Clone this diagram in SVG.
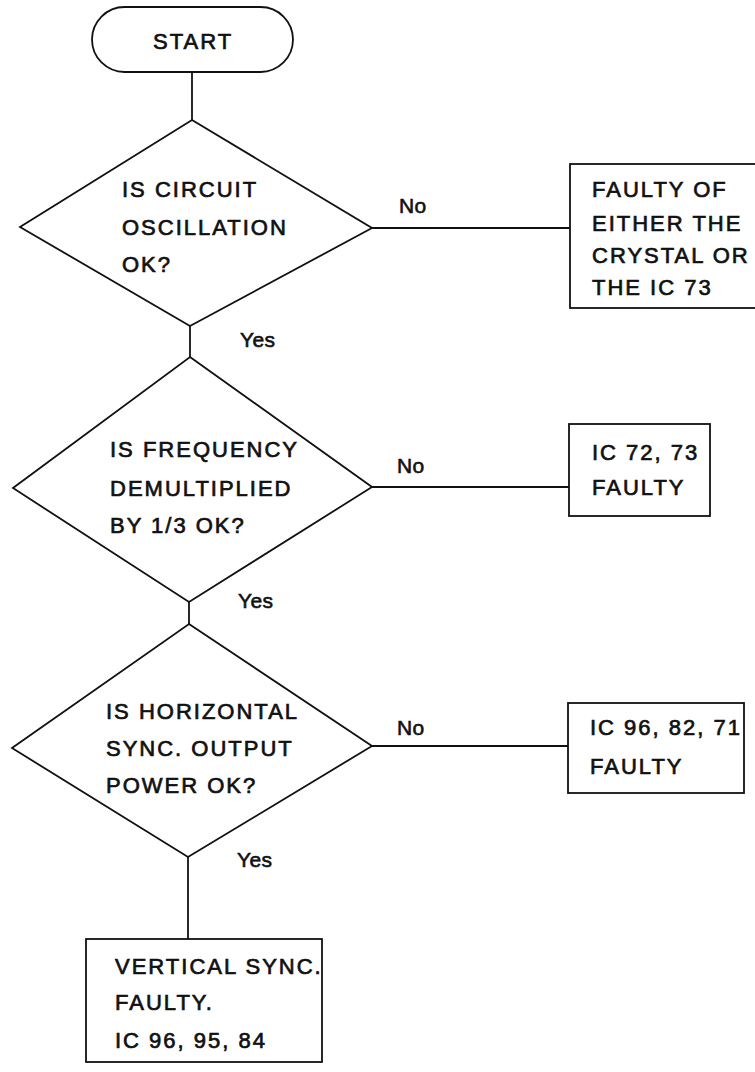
<svg xmlns="http://www.w3.org/2000/svg" width="755" height="1072" viewBox="0 0 755 1072">
<style>
.s{fill:#fff;stroke:#111;stroke-width:1.8;stroke-linejoin:miter}
.c{fill:none;stroke:#111;stroke-width:1.8}
.t{font-family:"Liberation Sans",Arial,sans-serif;font-size:22px;letter-spacing:2px;fill:#111;stroke:#111;stroke-width:0.7px}
.l{font-family:"Liberation Sans",Arial,sans-serif;font-size:21px;letter-spacing:0.4px;fill:#111;stroke:#111;stroke-width:0.6px}
</style>
<rect width="755" height="1072" fill="#fff"/>
<g id="connectors">
<line class="c" x1="192" y1="72" x2="192" y2="120"/>
<line class="c" x1="190" y1="326" x2="190" y2="357"/>
<line class="c" x1="189" y1="602" x2="189" y2="624"/>
<line class="c" x1="188" y1="857" x2="188" y2="939"/>
<line class="c" x1="372" y1="228" x2="570" y2="228"/>
<line class="c" x1="372" y1="487" x2="569" y2="487"/>
<line class="c" x1="372" y1="746" x2="568" y2="746"/>
<text class="l" x="399" y="213">No</text>
<text class="l" x="397" y="473">No</text>
<text class="l" x="397" y="735">No</text>
<text class="l" x="240" y="347">Yes</text>
<text class="l" x="238" y="608">Yes</text>
<text class="l" x="237" y="867">Yes</text>
</g>
<g id="start">
<rect class="s" x="92" y="7" width="201" height="65" rx="32.5" ry="32.5"/>
<text class="t" x="153" y="49">START</text>
</g>
<g id="q1">
<polygon class="s" points="192,120 372,228 190,326 20,227"/>
<text class="t" x="122" y="197">IS CIRCUIT</text>
<text class="t" x="122" y="235">OSCILLATION</text>
<text class="t" x="122" y="272">OK?</text>
</g>
<g id="r1">
<rect class="s" x="570" y="164" width="195" height="144"/>
<text class="t" x="592" y="197">FAULTY OF</text>
<text class="t" x="592" y="231">EITHER THE</text>
<text class="t" x="592" y="263">CRYSTAL OR</text>
<text class="t" x="592" y="295">THE IC 73</text>
</g>
<g id="q2">
<polygon class="s" points="190,357 372,487 189,602 13,488"/>
<text class="t" x="110" y="457">IS FREQUENCY</text>
<text class="t" x="110" y="496">DEMULTIPLIED</text>
<text class="t" x="110" y="533">BY 1/3 OK?</text>
</g>
<g id="r2">
<rect class="s" x="569" y="424" width="141" height="92"/>
<text class="t" x="592" y="460">IC 72, 73</text>
<text class="t" x="592" y="495">FAULTY</text>
</g>
<g id="q3">
<polygon class="s" points="189,624 372,746 188,857 12,748"/>
<text class="t" x="106" y="719">IS HORIZONTAL</text>
<text class="t" x="106" y="756">SYNC. OUTPUT</text>
<text class="t" x="106" y="793">POWER OK?</text>
</g>
<g id="r3">
<rect class="s" x="568" y="703" width="176" height="90"/>
<text class="t" x="590" y="735">IC 96, 82, 71</text>
<text class="t" x="590" y="774">FAULTY</text>
</g>
<g id="r4">
<rect class="s" x="86" y="939" width="236" height="123"/>
<text class="t" x="115" y="974">VERTICAL SYNC.</text>
<text class="t" x="115" y="1010">FAULTY.</text>
<text class="t" x="115" y="1048">IC 96, 95, 84</text>
</g>
</svg>
